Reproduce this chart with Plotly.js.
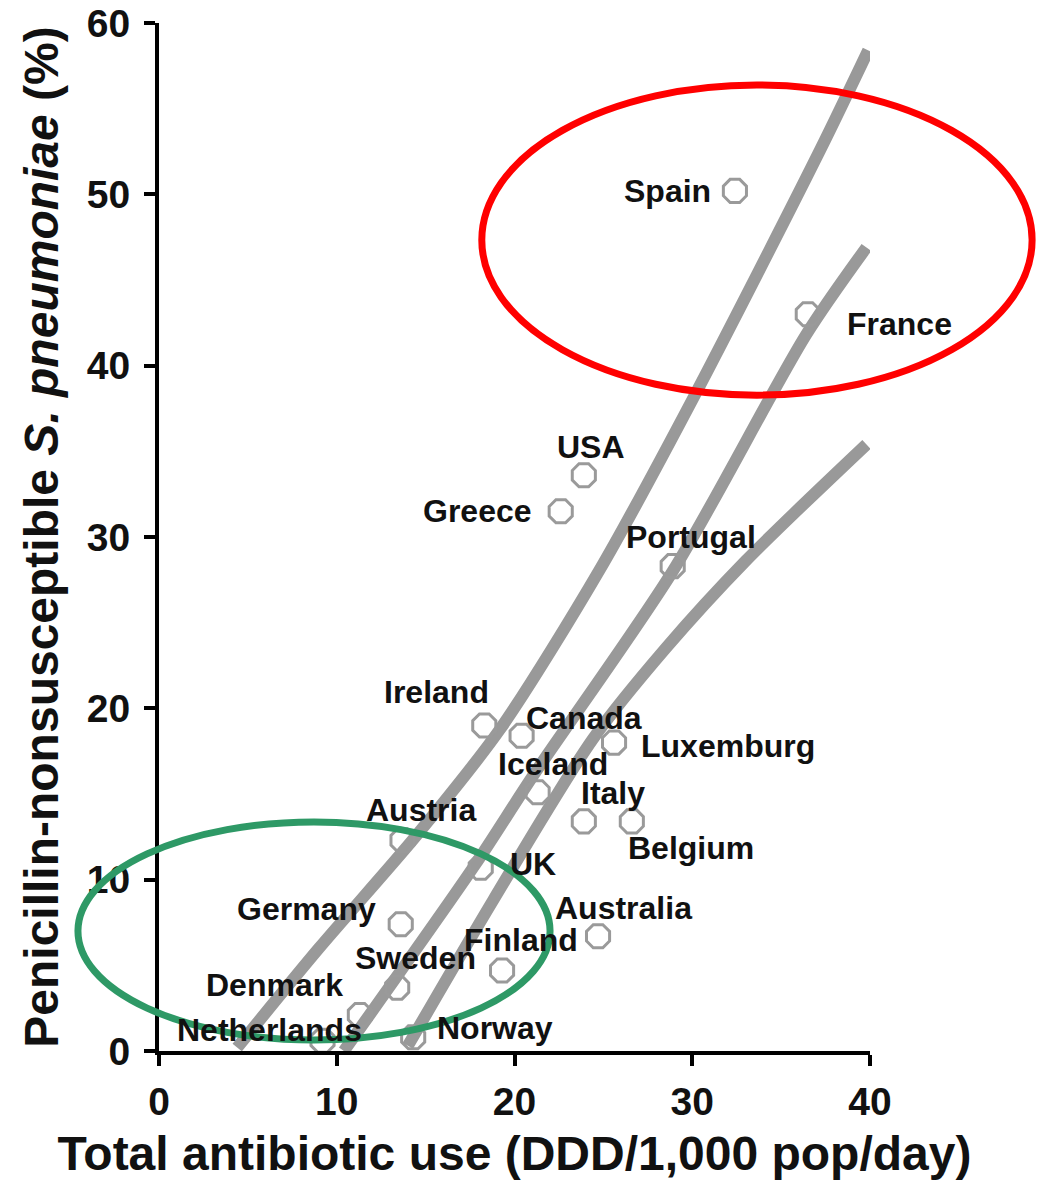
<!DOCTYPE html>
<html>
<head>
<meta charset="utf-8">
<script src="https://cdn.plot.ly/plotly-3.0.1.min.js"></script>
<style>html,body{margin:0;padding:0;background:#fff;}#chart{width:1041px;height:1180px;}</style>
</head>
<body>
<div id="chart"></div>
<script>
// ---- data ----
const countries = ["Spain","France","USA","Greece","Portugal","Ireland","Canada","Luxemburg","Iceland","Italy",
  "Belgium","Austria","UK","Germany","Australia","Finland","Sweden","Denmark","Netherlands","Norway"];
const antibioticUse = [32.4,36.5,23.9,22.6,28.9,18.3,20.4,25.6,21.3,23.9,
  26.6,13.7,18.1,13.6,24.7,19.3,13.4,11.3,9.2,14.3];
const penNonsusceptible = [50.2,43.0,33.6,31.5,28.3,19.0,18.4,18.0,15.1,13.4,
  13.4,12.3,10.7,7.4,6.7,4.7,3.7,2.1,0.6,0.8];

// three fitted trend curves (x, y)
const fit1X = [4.4, 9.0, 14.5, 19.2, 24.8, 30.0, 37.2, 39.9];
const fit1Y = [0.2, 6.0, 12.6, 18.8, 28.1, 38.0, 52.6, 58.4];
const fit2X = [10.4, 17.8, 21.0, 28.9, 36.4, 39.8];
const fit2Y = [0.0, 10.9, 16.0, 28.0, 41.8, 46.9];
const fit3X = [14.0, 18.8, 24.4, 28.5, 33.0, 39.8];
const fit3Y = [0.3, 8.8, 18.2, 23.5, 28.6, 35.4];

const xTicks = [0, 10, 20, 30, 40];
const yTicks = [0, 10, 20, 30, 40, 50, 60];

// ---- label placement (style) : [xanchor, xshift px, yshift px] ----
const labelPlacement = {
  "Spain":["right",-22,0], "France":["left",37,-10], "USA":["center",7,28], "Greece":["right",-27,0],
  "Portugal":["center",18,29], "Ireland":["center",-48,33], "Canada":["left",2,18], "Luxemburg":["left",25,-3],
  "Iceland":["center",15,28], "Italy":["center",29,28], "Belgium":["center",59,-27], "Austria":["center",18,30],
  "UK":["left",27,4], "Germany":["right",-23,15], "Australia":["center",25,28], "Finland":["center",19,30],
  "Sweden":["center",18,30], "Denmark":["right",-15,30], "Netherlands":["center",-53,11], "Norway":["left",22,9]
};

const FONT = "Liberation Sans, Arial, Helvetica, sans-serif";
const lineStyle = {color:"#999999", width:12, shape:"spline", smoothing:0.8};

const traces = [
  {x:fit1X, y:fit1Y, mode:"lines", line:lineStyle, hoverinfo:"skip", showlegend:false, cliponaxis:false},
  {x:fit2X, y:fit2Y, mode:"lines", line:lineStyle, hoverinfo:"skip", showlegend:false, cliponaxis:false},
  {x:fit3X, y:fit3Y, mode:"lines", line:lineStyle, hoverinfo:"skip", showlegend:false, cliponaxis:false},
  {x:antibioticUse, y:penNonsusceptible, text:countries, mode:"markers", showlegend:false, cliponaxis:false,
   marker:{symbol:"octagon-open", size:25, color:"#9a9a9a", line:{width:3}}}
];

const annotations = countries.map((c,i)=>({
  x:antibioticUse[i], y:penNonsusceptible[i], text:c, showarrow:false,
  xanchor:labelPlacement[c][0], yanchor:"middle",
  xshift:labelPlacement[c][1], yshift:labelPlacement[c][2],
  font:{family:FONT, size:32, weight:"bold", color:"#111"}
}));

// highlight ellipses (paper coordinates)
const shapes = [
  {type:"circle", xref:"paper", yref:"paper", x0:0.454, x1:1.228, y0:0.638, y1:0.9397,
   line:{color:"#ff0000", width:7}, layer:"above"},
  {type:"circle", xref:"paper", yref:"paper", x0:-0.114, x1:0.55, y0:0.0107, y1:0.2228,
   line:{color:"#2e9966", width:7}, layer:"above"}
];

const axisCommon = {
  showgrid:false, zeroline:false, showline:true, linecolor:"#000", linewidth:4,
  ticks:"outside", ticklen:11, tickwidth:4, tickcolor:"#000",
  tickfont:{family:FONT, size:39, weight:"bold", color:"#111"}
};

const layout = {
  width:1041, height:1180,
  margin:{l:159, r:171, t:23, b:129},
  paper_bgcolor:"#fff", plot_bgcolor:"#fff",
  showlegend:false,
  xaxis:Object.assign({}, axisCommon, {
    range:[0,40], tickvals:xTicks, ticktext:xTicks.map(String), ticklabelstandoff:2,
    title:{text:"Total antibiotic use (DDD/1,000 pop/day)", standoff:30,
      font:{family:FONT, size:48, weight:"bold", color:"#111"}}
  }),
  yaxis:Object.assign({}, axisCommon, {
    range:[0,60], tickvals:yTicks, ticktext:yTicks.map(String), ticklabelstandoff:6,
    title:{text:"Penicillin-nonsusceptible <i>S. pneumoniae</i> (%)", standoff:14,
      font:{family:FONT, size:48, weight:"bold", color:"#111"}}
  }),
  annotations:annotations,
  shapes:shapes
};

Plotly.newPlot("chart", traces, layout, {staticPlot:true, displayModeBar:false});
</script>
</body>
</html>
